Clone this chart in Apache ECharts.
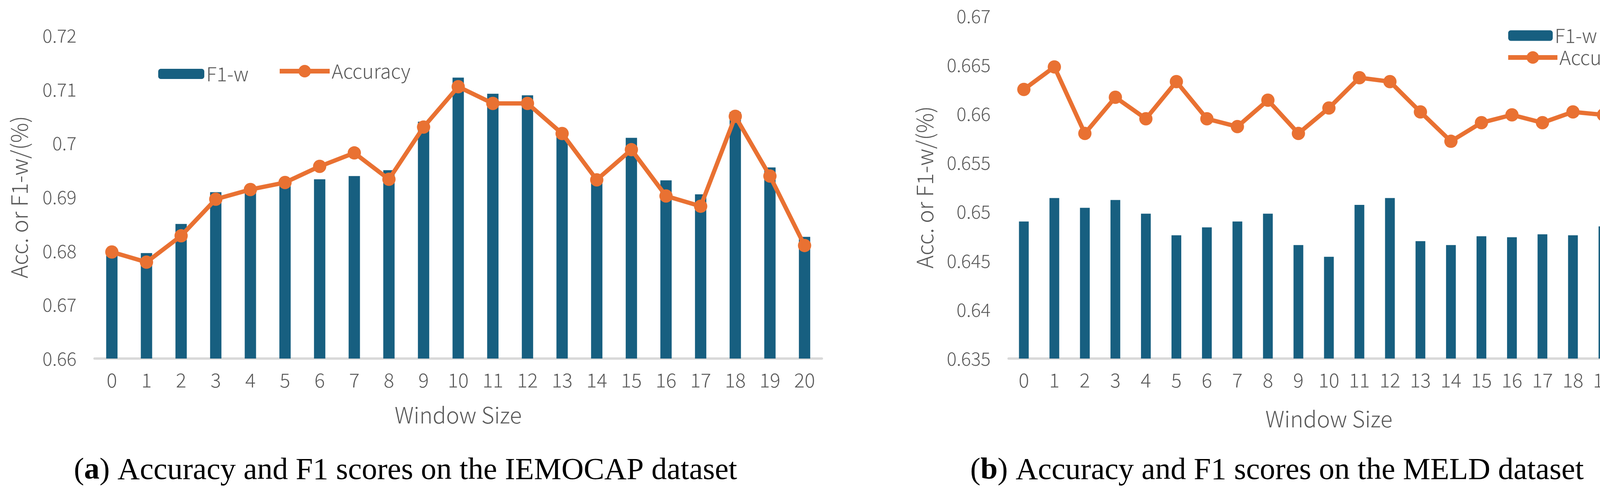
<!DOCTYPE html>
<html>
<head>
<meta charset="utf-8">
<script src="https://cdn.jsdelivr.net/npm/echarts@6/dist/echarts.min.js"></script>
<style>
html,body{margin:0;padding:0;background:#fff;}
#c{width:4238px;height:1266px;}
</style>
</head>
<body>
<div id="c"></div>
<script>
var categories = ['0','1','2','3','4','5','6','7','8','9','10','11','12','13','14','15','16','17','18','19','20'];
var iemocapF1 = [0.6795, 0.6796, 0.6850, 0.6909, 0.6912, 0.6925, 0.6933, 0.6939, 0.6950, 0.7040, 0.7122, 0.7092, 0.7089, 0.7012, 0.6932, 0.7010, 0.6931, 0.6905, 0.7058, 0.6955, 0.6826];
var iemocapAcc = [0.6798, 0.6779, 0.6828, 0.6896, 0.6914, 0.6927, 0.6957, 0.6982, 0.6933, 0.7030, 0.7105, 0.7074, 0.7074, 0.7018, 0.6932, 0.6988, 0.6902, 0.6883, 0.7050, 0.6939, 0.6810];
var meldF1 = [0.6490, 0.6514, 0.6504, 0.6512, 0.6498, 0.6476, 0.6484, 0.6490, 0.6498, 0.6466, 0.6454, 0.6507, 0.6514, 0.6470, 0.6466, 0.6475, 0.6474, 0.6477, 0.6476, 0.6485, 0.6472];
var meldAcc = [0.6625, 0.6648, 0.6580, 0.6617, 0.6595, 0.6633, 0.6595, 0.6587, 0.6614, 0.6580, 0.6606, 0.6637, 0.6633, 0.6602, 0.6572, 0.6591, 0.6599, 0.6591, 0.6602, 0.6599, 0.6583];
var leftTicks = {min: 0.66, max: 0.72, interval: 0.01};
var rightTicks = {min: 0.635, max: 0.67, interval: 0.005};
var seriesNames = ['F1-w', 'Accuracy'];
var captions = ['Accuracy and F1 scores on the IEMOCAP dataset', 'Accuracy and F1 scores on the MELD dataset'];
var axisTitles = {x: 'Window Size', y: 'Acc. or F1-w/(%)'};

var BAR = '#175F80', ORANGE = '#E97132', GRAY = '#595959';
var SANS = "'Noto Sans CJK SC', 'Noto Sans', sans-serif";
var SERIF = "'Liberation Serif', 'DejaVu Serif', serif";

function fmt(v){ return String(parseFloat(v.toFixed(3))); }

function xAxisCfg(idx, gap){
  return {
    type: 'category', gridIndex: idx, data: categories, boundaryGap: true,
    axisTick: {show: false},
    axisLine: {show: true, lineStyle: {color: '#D9D9D9', width: 6}},
    axisLabel: {color: GRAY, fontSize: 50, fontFamily: SANS, fontWeight: 300, margin: 30, interval: 0},
    name: axisTitles.x, nameLocation: 'middle', nameGap: gap,
    nameTextStyle: {color: GRAY, fontSize: 57, fontFamily: SANS, fontWeight: 300}
  };
}
function yAxisCfg(idx, t, gap){
  return {
    type: 'value', gridIndex: idx, min: t.min, max: t.max, interval: t.interval,
    axisLine: {show: false}, axisTick: {show: false}, splitLine: {show: false},
    axisLabel: {color: GRAY, fontSize: 47, fontFamily: SANS, fontWeight: 300, margin: 46, formatter: fmt},
    name: axisTitles.y, nameLocation: 'middle', nameGap: gap, nameRotate: 90,
    nameTextStyle: {color: GRAY, fontSize: 57, fontFamily: SANS, fontWeight: 300}
  };
}
function barSeries(idx, data, w){
  return {name: seriesNames[0], type: 'bar', xAxisIndex: idx, yAxisIndex: idx, data: data,
    barWidth: w, itemStyle: {color: BAR}, z: 2, silent: true};
}
function lineSeries(idx, data){
  return {name: seriesNames[1], type: 'line', xAxisIndex: idx, yAxisIndex: idx, data: data,
    symbol: 'circle', symbolSize: 34, showSymbol: true,
    lineStyle: {color: ORANGE, width: 11}, itemStyle: {color: ORANGE}, z: 3, silent: true};
}
var legText = {color: GRAY, fontSize: 50, fontFamily: SANS, fontWeight: 300};

var option = {
  backgroundColor: '#fff',
  animation: false,
  grid: [
    {left: 242, top: 91, width: 1862, height: 826},
    {left: 2582, top: 41, width: 1640, height: 876}
  ],
  xAxis: [xAxisCfg(0, 116), xAxisCfg(1, 126)],
  yAxis: [yAxisCfg(0, leftTicks, 164), yAxisCfg(1, rightTicks, 186)],
  legend: [
    {data: [seriesNames[0]], left: 400, top: 159, itemWidth: 118, itemHeight: 26, itemGap: 0, textStyle: legText, selectedMode: false},
    {data: [seriesNames[1]], left: 705, top: 152, itemWidth: 128, itemHeight: 40, itemGap: 0, textStyle: legText, selectedMode: false, lineStyle: {width: 12}},
    {data: [seriesNames[0]], left: 3856, top: 61, itemWidth: 114, itemHeight: 27, itemGap: 0, textStyle: legText, selectedMode: false},
    {data: [seriesNames[1]], left: 3850, top: 117, itemWidth: 126, itemHeight: 40, itemGap: 0, textStyle: legText, selectedMode: false, lineStyle: {width: 12}}
  ],
  graphic: [
    {type: 'text', x: 1038, y: 1204, style: {
      text: '({b|a}) ' + captions[0], align: 'center', verticalAlign: 'middle',
      font: "79px " + SERIF, fill: '#000',
      rich: {b: {font: "bold 79px " + SERIF, fill: '#000'}}
    }},
    {type: 'text', x: 3269, y: 1204, style: {
      text: '({b|b}) ' + captions[1], align: 'center', verticalAlign: 'middle',
      font: "79px " + SERIF, fill: '#000',
      rich: {b: {font: "bold 79px " + SERIF, fill: '#000'}}
    }}
  ],
  series: [
    barSeries(0, iemocapF1, 29), lineSeries(0, iemocapAcc),
    barSeries(1, meldF1, 25), lineSeries(1, meldAcc)
  ]
};
var chart = echarts.init(document.getElementById('c'), null, {renderer: 'canvas'});
chart.setOption(option);
</script>
</body>
</html>
